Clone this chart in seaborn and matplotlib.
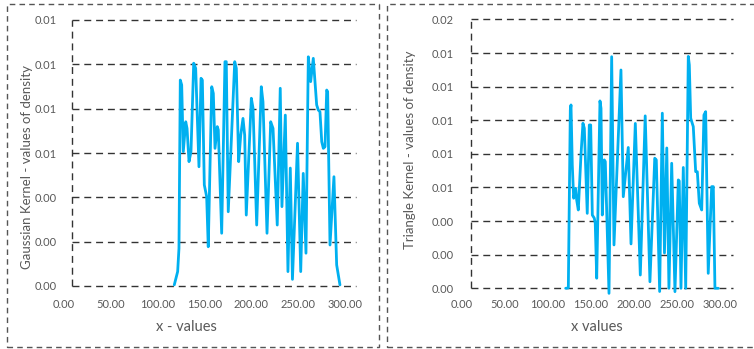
import matplotlib
matplotlib.use("Agg")
import matplotlib.pyplot as plt
import seaborn as sns
from matplotlib.patches import Rectangle

# Gaussian kernel density estimate (x, density)
gauss_x = [117.8, 121.4, 122.8, 124.2, 125.7, 127.4, 130.0, 131.4, 133.5, 135.6,
           138.5, 140.6, 144.1, 146.3, 147.7, 149.8, 152.3, 154.0, 157.7, 159.4,
           161.2, 163.6, 164.7, 168.3, 171.8, 173.2, 175.3, 182.2, 183.9, 186.4,
           188.6, 191.0, 192.8, 194.5, 199.9, 201.7, 205.6, 210.5, 212.3, 216.6,
           220.5, 223.0, 227.5, 230.7, 232.5, 236.1, 238.9, 241.4, 243.7, 249.1,
           252.5, 255.2, 258.1, 260.6, 263.1, 265.9, 269.5, 271.2, 273.0, 274.9,
           276.6, 278.4, 280.2, 281.2, 283.7, 287.9, 290.8, 294.3]
gauss_y = [0.05, 0.65, 1.70, 9.29, 9.07, 6.06, 7.41, 7.11, 5.61, 6.06,
           10.05, 9.82, 5.38, 9.37, 9.29, 4.56, 4.03, 1.77, 8.99, 8.69,
           6.21, 7.19, 7.04, 2.38, 10.12, 10.12, 3.35, 10.12, 9.82, 5.61,
           6.81, 7.56, 6.81, 3.20, 8.47, 8.02, 2.75, 8.99, 8.31, 2.38,
           7.41, 7.11, 2.75, 8.92, 3.58, 7.71, 0.65, 5.32, 0.30, 6.44,
           0.65, 5.08, 1.48, 10.34, 9.22, 10.27, 8.17, 7.94, 7.86, 6.51,
           6.21, 6.28, 8.84, 8.76, 1.85, 4.93, 0.95, 0.05]
gauss_y = [v / 1000 for v in gauss_y]

# Triangle kernel density estimate (x, density)
tri_x = [120.9, 124.0, 126.3, 127.1, 128.6, 130.2, 132.6, 133.7, 135.6, 138.7,
         141.0, 142.6, 146.0, 148.4, 150.0, 151.9, 154.2, 155.3, 157.0, 160.8,
         162.0, 163.5, 165.8, 167.0, 171.3, 174.4, 177.1, 185.2, 187.9, 193.7,
         196.9, 201.9, 207.7, 213.4, 218.9, 224.5, 226.3, 230.2, 233.3, 235.8,
         238.5, 241.0, 244.2, 248.0, 251.9, 253.0, 255.0, 257.7, 260.5, 263.5,
         264.7, 266.3, 269.3, 272.1, 274.0, 276.3, 279.1, 281.7, 283.7, 286.7,
         290.7, 292.6, 294.5, 298.4]
tri_y = [0.00, 0.02, 10.61, 10.91, 7.34, 5.36, 5.95, 5.26, 4.66, 7.93,
         9.82, 9.52, 4.46, 9.72, 9.72, 4.36, 4.17, 3.87, 0.60, 11.15,
         10.71, 4.36, 7.64, 7.54, -0.30, 13.78, 2.58, 12.99, 5.45, 8.38,
         2.64, 9.81, 0.79, 10.26, 0.39, 7.74, 7.64, -0.19, 10.42, 2.10,
         8.35, 0.00, 7.44, -0.20, 6.45, 6.39, 0.00, 7.19, 0.00, 13.80,
         13.29, 10.12, 9.62, 6.94, 6.94, 5.06, 4.66, 10.31, 10.51, 0.89,
         6.05, 6.05, 0.00, 0.00]
tri_y = [v / 1000 for v in tri_y]

x_ticks = [0, 50, 100, 150, 200, 250, 300]
gauss_yticks = [0.000, 0.002, 0.004, 0.006, 0.008, 0.010, 0.012]
tri_yticks = [0.000, 0.002, 0.004, 0.006, 0.008, 0.010, 0.012, 0.014, 0.016]

sns.set_theme(style="white")
plt.rcParams['font.family'] = ['Lato', 'DejaVu Sans']

W, H = 754, 349
fig = plt.figure(figsize=(W / 100, H / 100), dpi=100)

LINE = "#00B0F0"
GRID = "#333333"
TXT = "#595959"
DASH = (0, (5, 3.5))


def axes_px(left, right, top, bottom):
    return fig.add_axes([left / W, 1 - bottom / H, (right - left) / W, (bottom - top) / H])


def panel(ax, xs, ys, xmax, spine_x, yticks, ypad, xpad):
    sns.lineplot(x=xs, y=ys, ax=ax, color=LINE, linewidth=2.0)
    ax.lines[-1].set_clip_on(False)
    ax.set_xlim(0, xmax)
    ax.set_ylim(yticks[0], yticks[-1])
    for s in ax.spines.values():
        s.set_visible(False)
    for yt in yticks:
        ax.plot([spine_x, xmax], [yt, yt], color=GRID, lw=1.0, ls=DASH,
                zorder=1, clip_on=False)
    ax.plot([spine_x, spine_x], [yticks[0], yticks[-1]], color=GRID, lw=1.0,
            ls=DASH, zorder=1, clip_on=False)
    ax.set_xticks(x_ticks)
    ax.set_xticklabels([f"{v:.2f}" for v in x_ticks])
    ax.set_yticks(yticks)
    ax.set_yticklabels([f"{v:.2f}" for v in yticks])
    ax.tick_params(axis="y", length=0, pad=ypad, labelsize=8, labelcolor=TXT)
    ax.tick_params(axis="x", length=0, pad=xpad, labelsize=8, labelcolor=TXT)
    ax.set_xlabel("")
    ax.set_ylabel("")
    ax.grid(False)


ax1 = axes_px(63.7, 356, 20, 286)
panel(ax1, gauss_x, gauss_y, 311.4, 8.9, gauss_yticks, 4.8, 9.0)

ax2 = axes_px(461.7, 733, 19.4, 288.3)
panel(ax2, tri_x, tri_y, 315.5, 10.8, tri_yticks, 6.0, 7.6)

# axis titles
fig.text(186 / W, 1 - 327 / H, "x - values", ha="center", va="center",
         fontsize=10.5, color=TXT)
fig.text(597 / W, 1 - 327 / H, "x values", ha="center", va="center",
         fontsize=10.5, color=TXT)
fig.text(27.5 / W, 1 - 167 / H, "Gaussian Kernel - values of density",
         rotation=90, ha="center", va="center", fontsize=9.5, color=TXT)
fig.text(410.5 / W, 1 - 150 / H, "Triangle Kernel - values of density",
         rotation=90, ha="center", va="center", fontsize=9.5, color=TXT)

# dashed frames around each chart
for x0, x1 in [(7, 379), (387, 762)]:
    fig.patches.append(Rectangle((x0 / W, 1 - 347 / H), (x1 - x0) / W, 343 / H,
                                 transform=fig.transFigure, fill=False,
                                 edgecolor="#555555", lw=1.0, ls=(0, (4, 3))))

fig.savefig("out.png", dpi=100)
